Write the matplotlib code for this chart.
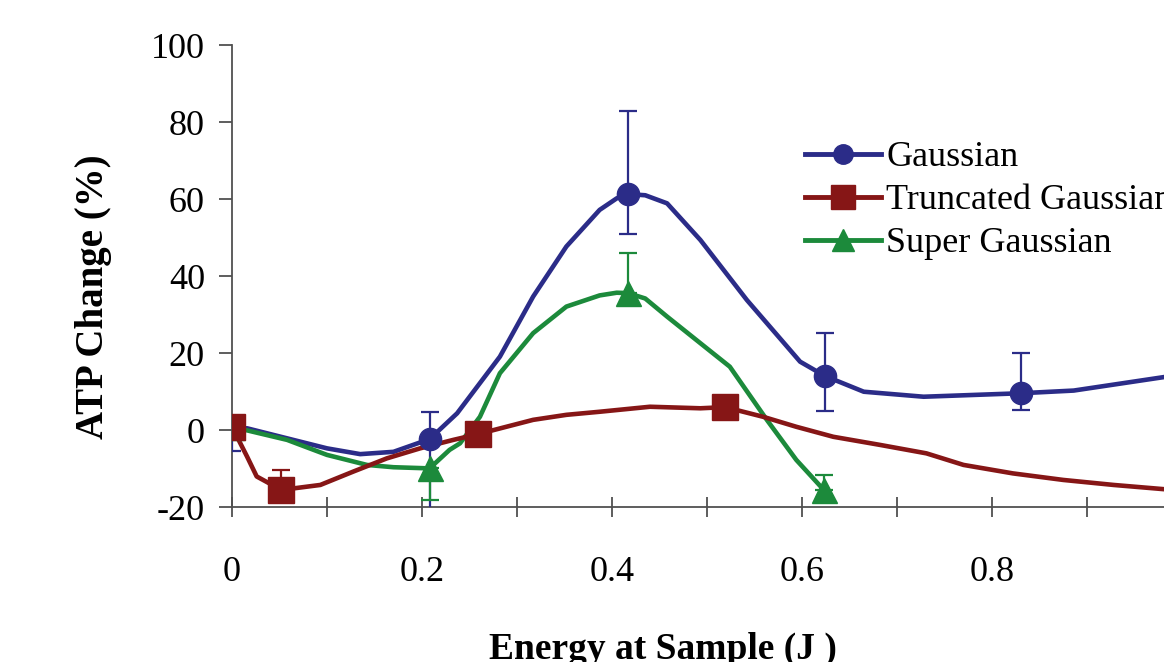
import numpy as np
import matplotlib
matplotlib.use("Agg")
import matplotlib.pyplot as plt
from matplotlib.lines import Line2D

plt.rcParams['font.family'] = ['Liberation Serif', 'DejaVu Serif']

# measured points (energy in J, ATP change in %)
gauss_x = [0.0, 0.208, 0.417, 0.624, 0.830, 1.04]
gauss_y = [0.5, -2.3, 61.3, 14.1, 9.6, 16.0]
gauss_err_lo = [6.0, 21.0, 10.4, 9.0, 4.3, 6.0]
gauss_err_hi = [2.0, 7.0, 21.7, 11.1, 10.4, 6.0]

trunc_x = [0.0, 0.052, 0.259, 0.519]
trunc_y = [0.9, -15.5, -1.0, 6.0]
trunc_err_lo = [0.0, 0.0, 0.0, 0.0]
trunc_err_hi = [0.0, 5.2, 0.0, 0.0]

super_x = [0.0, 0.208, 0.417, 0.623]
super_y = [0.9, -9.9, 35.6, -15.5]
super_err_lo = [0.0, 8.2, 0.0, 0.0]
super_err_hi = [0.0, 0.0, 10.4, 3.9]

# smoothed trend lines
gauss_line_x = [0.0, 0.016, 0.058, 0.100, 0.135, 0.170, 0.208, 0.237, 0.282, 0.317,
                0.352, 0.387, 0.405, 0.417, 0.435, 0.458, 0.493, 0.542, 0.598, 0.624,
                0.665, 0.728, 0.830, 0.886, 0.981, 1.04]
gauss_line_y = [0.5, 0.5, -2.1, -4.7, -6.2, -5.6, -2.3, 4.4, 19.1, 34.7,
                47.7, 57.2, 60.2, 61.3, 61.0, 58.9, 49.4, 33.8, 17.8, 14.1,
                10.0, 8.7, 9.6, 10.3, 13.8, 16.0]

trunc_line_x = [0.0, 0.016, 0.026, 0.052, 0.093, 0.128, 0.163, 0.198, 0.233, 0.259,
                0.317, 0.352, 0.387, 0.440, 0.493, 0.519, 0.559, 0.594, 0.633, 0.682,
                0.731, 0.770, 0.822, 0.875, 0.928, 0.981, 1.04]
trunc_line_y = [0.9, -6.9, -12.0, -15.5, -14.2, -10.7, -7.3, -4.7, -2.5, -1.0,
                2.7, 4.0, 4.8, 6.1, 5.7, 6.0, 3.5, 0.9, -1.7, -3.8,
                -6.0, -9.0, -11.2, -12.9, -14.2, -15.3, -16.5]

super_line_x = [0.0, 0.058, 0.100, 0.142, 0.170, 0.208, 0.229, 0.240, 0.261, 0.282,
                0.317, 0.352, 0.387, 0.405, 0.417, 0.435, 0.458, 0.493, 0.524, 0.563,
                0.594, 0.623]
super_line_y = [0.9, -2.5, -6.4, -9.0, -9.6, -9.9, -5.1, -3.4, 3.5, 14.8,
                25.2, 32.1, 35.0, 35.7, 35.6, 34.2, 29.5, 22.6, 16.5, 2.7,
                -7.7, -15.5]

labels = ['Gaussian', 'Truncated Gaussian', 'Super Gaussian']
colors = ['#2B2C88', '#861616', '#1C8A3B']
markers = ['o', 's', '^']
msizes = [16, 19, 18]

fig = plt.figure(figsize=(11.64, 6.62), dpi=100)
ax = fig.add_axes([0.1993, 0.2337, 0.9794, 0.6983])

lines = [(gauss_line_x, gauss_line_y), (trunc_line_x, trunc_line_y), (super_line_x, super_line_y)]
pts = [(gauss_x, gauss_y, gauss_err_lo, gauss_err_hi),
       (trunc_x, trunc_y, trunc_err_lo, trunc_err_hi),
       (super_x, super_y, super_err_lo, super_err_hi)]

# draw order: gaussian, super, truncated on top like the original
for i in [0, 2, 1]:
    lx, ly = lines[i]
    ax.plot(lx, ly, color=colors[i], lw=3.3, zorder=2,
            solid_joinstyle='round', solid_capstyle='round')
    px, py, lo, hi = pts[i]
    ax.errorbar(px, py, yerr=[lo, hi], fmt=markers[i], color=colors[i],
                ms=msizes[i], elinewidth=1.6, capsize=6.5, capthick=1.6, zorder=3)

ax.set_xlim(0, 1.2)
ax.set_ylim(-20, 100)
ax.spines['top'].set_visible(False)
ax.spines['right'].set_visible(False)
for s in ['left', 'bottom']:
    ax.spines[s].set_color('#505050')
    ax.spines[s].set_linewidth(1.3)

xt = np.round(np.arange(0, 1.21, 0.1), 1)
ax.set_xticks(xt)
ax.set_xticklabels(['0' if v == 0 else ('%g' % v if round(v * 10) % 2 == 0 and v < 0.95 else '')
                    for v in xt])
ax.set_yticks(np.arange(-20, 101, 20))
ax.set_yticklabels(['-20', '0', '20', '40', '60', '80', '100'])
ax.tick_params(axis='x', direction='inout', length=14, width=1.3, color='#505050',
               labelsize=26, pad=28)
ax.tick_params(axis='y', direction='out', length=9.5, width=1.3, color='#505050',
               labelsize=26, pad=10)

ax.set_ylabel('ATP Change (%)', fontsize=28, fontweight='bold')
ax.yaxis.set_label_coords(-0.105, 0.456)
ax.set_xlabel('Energy at Sample (J )', fontsize=27, fontweight='bold')
ax.xaxis.set_label_coords(0.378, -0.27)

handles = [Line2D([], [], color=colors[i], lw=3.5, marker=markers[i], ms=msizes[i] - 2)
           for i in range(3)]
fig.legend(handles, labels, loc='upper left', bbox_to_anchor=(805 / 1164, 1 - 141 / 662),
           frameon=False, fontsize=26, handlelength=2.1, handletextpad=0.15,
           labelspacing=0.27, borderpad=0, borderaxespad=0)

fig.savefig('out.png', dpi=100)
